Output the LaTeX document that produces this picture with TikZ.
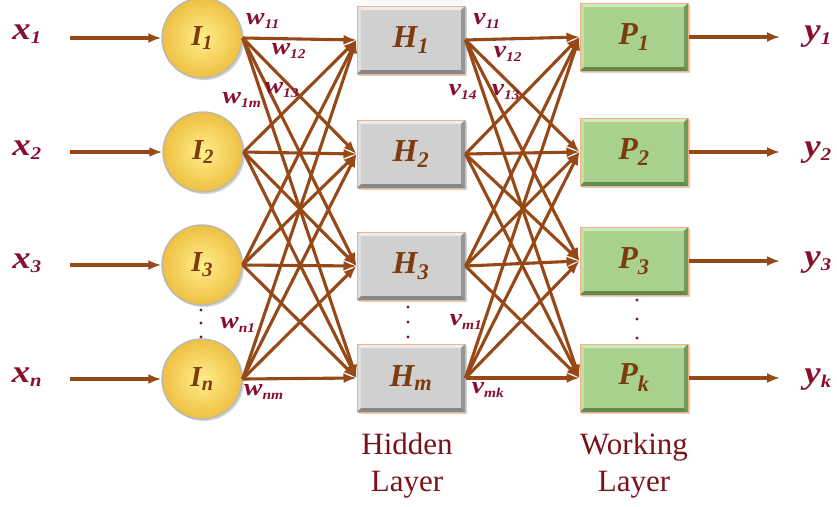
\documentclass[tikz,border=0pt]{standalone}
\usepackage{fontspec}
\setmainfont{Liberation Serif}
\newfontfamily\widefont[FakeStretch=1.15]{Liberation Serif}
\usetikzlibrary{arrows.meta,shadows}

\newcommand\smallsub[1]{\textsubscript{\scalebox{0.8}{#1}}}

\definecolor{wire}{RGB}{150,72,22}
\definecolor{lbl}{RGB}{135,15,45}
\definecolor{nodetxt}{RGB}{125,60,15}
\definecolor{captxt}{RGB}{120,20,25}
\definecolor{rim}{RGB}{244,177,131}
\definecolor{ballin}{RGB}{255,238,140}
\definecolor{ballout}{RGB}{238,192,66}
% grey hidden boxes
\definecolor{gmain}{RGB}{208,208,208}
\definecolor{gtop}{RGB}{236,236,236}
\definecolor{gleft}{RGB}{224,224,224}
\definecolor{gright}{RGB}{150,150,150}
\definecolor{gbot}{RGB}{135,135,135}
% green output boxes
\definecolor{pmain}{RGB}{169,209,142}
\definecolor{ptop}{RGB}{208,234,190}
\definecolor{pleft}{RGB}{192,224,170}
\definecolor{pright}{RGB}{112,152,88}
\definecolor{pbot}{RGB}{98,138,76}

\tikzset{
  wire/.style={draw=wire, line width=3.1pt, -{Latex[length=13pt,width=10pt]}},
  bevelbox/.style n args={5}{rectangle, minimum width=108pt, minimum height=68pt,
    inner sep=0pt, fill=#1, draw=rim, line width=1pt,
    drop shadow={shadow xshift=2pt, shadow yshift=-2pt, opacity=0.35},
    font=\fontsize{32}{35}\selectfont\bfseries\itshape, text=nodetxt,
    path picture={
      \fill[#2] (path picture bounding box.north west) -- (path picture bounding box.north east)
        -- ([shift={(-4pt,-4pt)}]path picture bounding box.north east)
        -- ([shift={(4pt,-4pt)}]path picture bounding box.north west) -- cycle;
      \fill[#3] (path picture bounding box.north west) -- (path picture bounding box.south west)
        -- ([shift={(4pt,4pt)}]path picture bounding box.south west)
        -- ([shift={(4pt,-4pt)}]path picture bounding box.north west) -- cycle;
      \fill[#4] (path picture bounding box.north east) -- (path picture bounding box.south east)
        -- ([shift={(-4pt,4pt)}]path picture bounding box.south east)
        -- ([shift={(-4pt,-4pt)}]path picture bounding box.north east) -- cycle;
      \fill[#5] (path picture bounding box.south west) -- (path picture bounding box.south east)
        -- ([shift={(-4pt,4pt)}]path picture bounding box.south east)
        -- ([shift={(4pt,4pt)}]path picture bounding box.south west) -- cycle;
    }},
  hidbox/.style={bevelbox={gmain}{gtop}{gleft}{gright}{gbot}},
  outbox/.style={bevelbox={pmain}{ptop}{pleft}{pright}{pbot}},
  inball/.style={circle, minimum size=80pt, inner sep=0pt, draw=gray!55, line width=1.4pt,
    inner color=ballin, outer color=ballout,
    drop shadow={shadow xshift=2pt, shadow yshift=-2pt, opacity=0.35},
    font=\fontsize{29}{32}\selectfont\bfseries\itshape, text=nodetxt},
  iolbl/.style={font=\widefont\fontsize{32}{35}\selectfont\bfseries\itshape, text=lbl, inner sep=0pt},
  wlbl/.style={font=\widefont\fontsize{24}{27}\selectfont\bfseries\itshape, text=lbl, inner sep=0pt},
  layercap/.style={font=\fontsize{31}{37}\selectfont, text=captxt, align=center, inner sep=0pt},
  dotmark/.style={fill=lbl},
}

\begin{document}
\begin{tikzpicture}[x=1pt,y=-1pt]
\useasboundingbox (0,0) rectangle (837,506);

% input neurons
\node[inball] (I1) at (202,38)  {I\textsubscript{1}};
\node[inball] (I2) at (203,152) {I\textsubscript{2}};
\node[inball] (I3) at (202,265) {I\textsubscript{3}};
\node[inball] (In) at (202,379) {I\textsubscript{n}};

% hidden layer
\node[hidbox] (H1) at (411,40)  {H\textsubscript{1}};
\node[hidbox] (H2) at (411,154) {H\textsubscript{2}};
\node[hidbox] (H3) at (411,266) {H\textsubscript{3}};
\node[hidbox] (Hm) at (411,378) {H\textsubscript{m}};

% working layer
\node[outbox] (P1) at (634,37)  {P\textsubscript{1}};
\node[outbox] (P2) at (634,152) {P\textsubscript{2}};
\node[outbox] (P3) at (634,261) {P\textsubscript{3}};
\node[outbox] (Pk) at (634,378) {P\textsubscript{k}};

% input and output labels
\node[iolbl] (x1) at (27,34)  {x\smallsub{1}};
\node[iolbl] (x2) at (27,150) {x\smallsub{2}};
\node[iolbl] (x3) at (27,263) {x\smallsub{3}};
\node[iolbl] (xn) at (27,377) {x\smallsub{n}};
\node[iolbl] (y1) at (818,37)  {y\smallsub{1}};
\node[iolbl] (y2) at (818,153) {y\smallsub{2}};
\node[iolbl] (y3) at (818,263) {y\smallsub{3}};
\node[iolbl] (yk) at (818,380) {y\smallsub{k}};

% free ends of the input and output arrows
\coordinate (xs1) at (70,38);
\coordinate (xs2) at (70,152);
\coordinate (xs3) at (70,265);
\coordinate (xsn) at (70,379);
\coordinate (ye1) at (780,37);
\coordinate (ye2) at (780,152);
\coordinate (ye3) at (780,261);
\coordinate (yek) at (780,378);

\draw[wire] (xs1) -- (I1);
\draw[wire] (xs2) -- (I2);
\draw[wire] (xs3) -- (I3);
\draw[wire] (xsn) -- (In);
\draw[wire] (P1) -- (ye1);
\draw[wire] (P2) -- (ye2);
\draw[wire] (P3) -- (ye3);
\draw[wire] (Pk) -- (yek);

% full connections
\foreach \i in {1,2,3,n}
  \foreach \j in {1,2,3,m}
    \draw[wire] (I\i.east) -- (H\j.west);
\foreach \i in {1,2,3,m}
  \foreach \j in {1,2,3,k}
    \draw[wire] (H\i.east) -- (P\j.west);

% weight labels
\node[wlbl] (w11) at (263,21) {w\smallsub{11}};
\node[wlbl] (w12) at (289,51) {w\smallsub{12}};
\node[wlbl] (w13) at (282,90) {w\smallsub{13}};
\node[wlbl] (w1m) at (242,100) {w\smallsub{1m}};
\node[wlbl] (wn1) at (238,325) {w\smallsub{n1}};
\node[wlbl] (wnm) at (264,392) {w\smallsub{nm}};
\node[wlbl] (v11) at (487,21) {v\smallsub{11}};
\node[wlbl] (v12) at (508,54) {v\smallsub{12}};
\node[wlbl] (v14) at (463,92) {v\smallsub{14}};
\node[wlbl] (v13) at (506,92) {v\smallsub{13}};
\node[wlbl] (vm1) at (466,322) {v\smallsub{m1}};
\node[wlbl] (vmk) at (488,390) {v\smallsub{mk}};

% ellipsis dots
\foreach \y in {310,323,337} \fill[dotmark] (201,\y) circle (1.6);
\foreach \y in {307,322,337} \fill[dotmark] (408,\y) circle (1.6);
\foreach \y in {300,319,338} \fill[dotmark] (637,\y) circle (1.6);

% layer captions
\node[layercap] (hidcap) at (407,466) {Hidden\\Layer};
\node[layercap] (wrkcap) at (634,466) {Working\\Layer};
\end{tikzpicture}
\end{document}
